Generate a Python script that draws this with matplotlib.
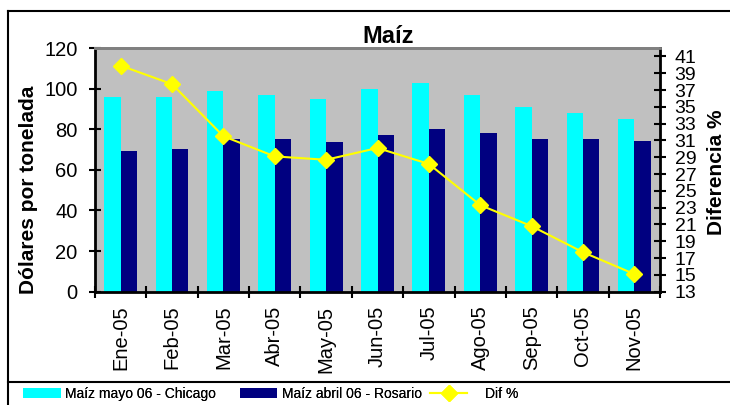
import matplotlib
matplotlib.use("Agg")
import matplotlib.pyplot as plt
import numpy as np
from matplotlib.lines import Line2D

months = ["Ene-05", "Feb-05", "Mar-05", "Abr-05", "May-05", "Jun-05",
          "Jul-05", "Ago-05", "Sep-05", "Oct-05", "Nov-05"]
chicago = [95.8, 95.8, 98.9, 96.7, 94.9, 99.7, 102.8, 96.7, 90.8, 87.9, 85.1]
rosario = [69.2, 70.2, 75.1, 75.1, 73.9, 77.0, 80.0, 78.0, 75.1, 75.1, 74.1]
dif = [39.9, 37.7, 31.5, 29.1, 28.7, 30.1, 28.2, 23.3, 20.8, 17.7, 15.1]

plt.rcParams["font.family"] = ["Liberation Sans", "DejaVu Sans"]

W, H = 730, 405
fig = plt.figure(figsize=(W / 100, H / 100), dpi=100)
ax = fig.add_axes([95 / W, (H - 291.7) / H, 565 / W, 243.7 / H])
ax.set_facecolor("#C0C0C0")

x = np.arange(len(months))
w = 0.32
b1 = ax.bar(x - w / 2, chicago, w, color="#00FFFF")
b2 = ax.bar(x + w / 2, rosario, w, color="#000080")
ax.set_xlim(-0.5, len(months) - 0.5)
ax.set_ylim(0, 120)
ax.set_yticks(range(0, 121, 20))
ax.set_xticks(x)
ax.set_xticklabels(months, rotation=90)
ax.set_xticks(np.arange(-0.5, len(months), 1), minor=True)
ax.tick_params(axis="x", which="major", length=0, labelsize=14.5, pad=10)
ax.tick_params(axis="x", which="minor", direction="inout", length=9, width=1.5)
ax.tick_params(axis="y", direction="inout", length=9, width=1.5, labelsize=14.5, pad=8)

ax2 = ax.twinx()
ln, = ax2.plot(x, dif, color="#FFFF00", lw=1.5, marker="D", markersize=8,
               markeredgecolor="#FFFF00")
ax2.set_ylim(13, 42)
ax2.set_yticks(range(13, 42, 2))
ax2.tick_params(axis="y", direction="inout", length=9, width=1.5, labelsize=14, pad=6)

for a in (ax, ax2):
    a.spines["top"].set_color("#808080")
    a.spines["top"].set_linewidth(2)
ax.spines["left"].set_linewidth(2)
ax.spines["bottom"].set_linewidth(2)
ax.spines["right"].set_visible(False)
ax2.spines["left"].set_visible(False)
ax2.spines["bottom"].set_visible(False)
ax2.spines["right"].set_linewidth(2)

fig.text(388 / W, 1 - 43 / H, "Maíz", ha="center", va="baseline",
         fontsize=17, fontweight="bold")
fig.text(29 / W, 1 - 190 / H, "Dólares por tonelada", rotation=90,
         ha="center", va="center", fontsize=15, fontweight="bold")
fig.text(716 / W, 1 - 172 / H, "Diferencia %", rotation=90,
         ha="center", va="center", fontsize=15, fontweight="bold")

# outer frame and legend box line
fig.add_artist(Line2D([8 / W, 1], [1 - 11 / H] * 2, transform=fig.transFigure, color="black", lw=1.5))
fig.add_artist(Line2D([8 / W] * 2, [0, 1 - 11 / H], transform=fig.transFigure, color="black", lw=1.5))
fig.add_artist(Line2D([8 / W, 1], [1 - 382 / H] * 2, transform=fig.transFigure, color="black", lw=1.5))

leg_size = 10
fs = leg_size * 100 / 72
entries = [
    (b1, "Maíz mayo 06 - Chicago", 23, 38, 4),
    (b2, "Maíz abril 06 - Rosario", 240, 37, 5),
    (ln, "Dif %", 430, 37, 18),
]
for h, lab, x0, hl, gap in entries:
    lg = fig.legend([h], [lab], loc="center left", bbox_to_anchor=(x0 / W, 1 - 394 / H),
                    frameon=False, borderpad=0, borderaxespad=0, fontsize=leg_size,
                    handlelength=hl / fs, handleheight=0.65, handletextpad=gap / fs)
    fig.add_artist(lg)

fig.savefig("out.png", dpi=100)
